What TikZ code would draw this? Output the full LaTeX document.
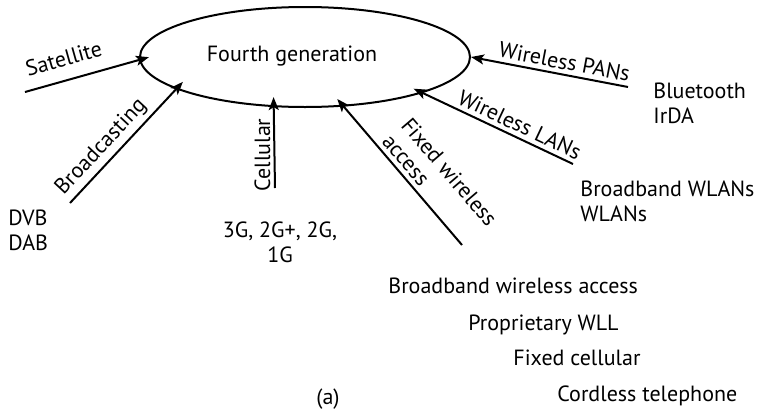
\documentclass[tikz,border=0pt]{standalone}
\usepackage{fontspec}
\setmainfont{PT Sans}
\usetikzlibrary{shapes.geometric,arrows.meta}

\tikzset{
  hub/.style={ellipse, draw, line width=1pt, minimum width=165pt, minimum height=50pt, inner sep=0pt},
  feed/.style={line width=1pt, -{Stealth[length=6.5pt,width=5pt,inset=1.5pt]}, shorten >=-5pt},
  along/.style={sloped, above, inner sep=2pt},
  tag/.style={inner sep=0pt, align=left},
}

\begin{document}
\begin{tikzpicture}[x=0.5pt, y=-0.5pt, font=\fontsize{11}{12.5}\selectfont]
\useasboundingbox (0,0) rectangle (760,413);
% hub
\node[hub] (fourg) at (305,57) {};
\node (fourgtext) at (292,56) {Fourth generation};
% free ends of the feeds
\coordinate (sat) at (25,92);
\coordinate (brc) at (70,203);
\coordinate (cel) at (275,188);
\coordinate (fwa) at (462,245);
\coordinate (lan) at (573,164);
\coordinate (pan) at (628,87);
% feeds
\draw[feed] (sat) -- node[along, pos=0.39, yshift=4.5pt] (satlab) {Satellite} (fourg.181);
\draw[feed] (brc) -- node[along, pos=0.40] (brclab) {Broadcasting} (fourg.194);
\draw[feed] (cel) -- node[pos=0.41, rotate=90, anchor=south, inner sep=1.5pt] (cellab) {Cellular} (fourg.238.5);
\draw[feed] (fwa) -- node[along, pos=0.35, align=left] (fwalab) {Fixed wireless\\access} (fourg.308.5);
\draw[feed] (lan) -- node[along, pos=0.39] (lanlab) {Wireless LANs} (fourg.343);
\draw[feed, shorten >=0pt] (pan) -- node[along, pos=0.42] (panlab) {Wireless PANs} (fourg.east);
% examples
\node[tag, anchor=north west] (dvb) at (8,210) {DVB\\DAB};
\node[tag, anchor=north, align=center] (gens) at (280,221.7) {3G, 2G+, 2G,\\1G};
\node[tag, anchor=north west] (blue) at (653,82.7) {Bluetooth\\IrDA};
\node[tag, anchor=north west] (wlan) at (580,180) {Broadband WLANs\\WLANs};
\node[tag, anchor=base west] (bwa) at (388,293) {Broadband wireless access};
\node[tag, anchor=base west] (wll) at (468,330.7) {Proprietary WLL};
\node[tag, anchor=base west] (fixc) at (513,365.7) {Fixed cellular};
\node[tag, anchor=base west] (cord) at (557,401) {Cordless telephone};
\node (caption) at (328,399) {(a)};
\end{tikzpicture}
\end{document}
